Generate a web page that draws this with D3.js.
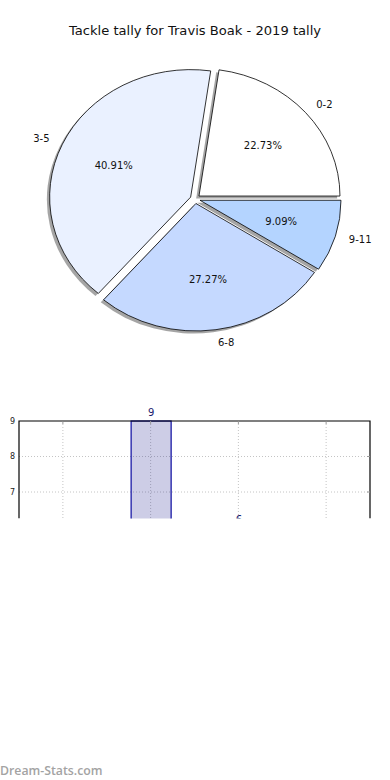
<!DOCTYPE html>
<html>
<head>
<meta charset="utf-8">
<script src="https://cdn.jsdelivr.net/npm/d3@7"></script>
<style>
  body { margin: 0; background: #fff; }
  svg { display: block; font-family: "DejaVu Sans", sans-serif; }
</style>
</head>
<body>
<svg id="chart" width="390" height="780"></svg>
<script>
// tally buckets and how many games fell in each
const categories = ['0-2', '3-5', '6-8', '9-11']
const counts = [5, 9, 6, 2]
const sliceColors = ['#ffffff', '#eaf1ff', '#c5d9ff', '#b4d4ff']
const yTicks = [7, 8, 9]

const svg = d3.select('#chart')

// title
svg.append('text')
    .attr('x', 195)
    .attr('y', 35)
    .attr('text-anchor', 'middle')
    .attr('font-size', '13.1px')
    .attr('fill', '#111')
    .text('Tackle tally for Travis Boak - 2019 tally')

// ---- pie ----
const cx = 195.2, cy = 199, rx = 141, ry = 127.5
const squash = ry / rx
const explode = 5
const shadowOff = 2.8

const pie = d3.pie().sort(null).startAngle(Math.PI / 2).endAngle(Math.PI / 2 - 2 * Math.PI)
const arcs = pie(counts)
const arc = d3.arc().innerRadius(0).outerRadius(rx)
const total = d3.sum(counts)

const pieG = svg.append('g')

arcs.forEach((d, i) => {
    const mid = (d.startAngle + d.endAngle) / 2
    const ox = cx + explode * Math.sin(mid)
    const oy = cy - explode * squash * Math.cos(mid)

    // 阴影, 向左下偏移
    pieG.append('path')
        .attr('d', arc(d))
        .attr('transform', `translate(${ox - shadowOff},${oy + shadowOff * squash}) scale(1,${squash})`)
        .attr('fill', '#4c4c4c')
        .attr('fill-opacity', 0.5)

    pieG.append('path')
        .attr('d', arc(d))
        .attr('transform', `translate(${ox},${oy}) scale(1,${squash})`)
        .attr('fill', sliceColors[i])
        .attr('stroke', '#000')
        .attr('stroke-width', 0.8)
        .attr('vector-effect', 'non-scaling-stroke')

    // 百分比
    pieG.append('text')
        .attr('x', ox + 0.6 * rx * Math.sin(mid))
        .attr('y', oy - 0.6 * ry * Math.cos(mid))
        .attr('dy', '0.35em')
        .attr('text-anchor', 'middle')
        .attr('font-size', '10px')
        .attr('fill', '#111')
        .text((100 * d.data / total).toFixed(2) + '%')

    // 类别标签
    const lx = ox + 1.1 * rx * Math.sin(mid)
    pieG.append('text')
        .attr('x', lx)
        .attr('y', oy - 1.1 * ry * Math.cos(mid))
        .attr('dy', '0.35em')
        .attr('text-anchor', Math.sin(mid) >= 0 ? 'start' : 'end')
        .attr('font-size', '10px')
        .attr('fill', '#111')
        .text(categories[i])
})

// ---- bar chart (cropped) ----
const plotLeft = 19, plotRight = 370, plotTop = 421, cut = 518.5
const x = d3.scaleBand().domain(categories).range([plotLeft, plotRight]).paddingInner(0.544).paddingOuter(0.272)
const y = d3.scaleLinear().domain([0, 9]).range([plotTop + 9 * 35.5, plotTop])

svg.append('clipPath').attr('id', 'cut')
    .append('rect').attr('x', 0).attr('y', 400).attr('width', 390).attr('height', cut - 400)

const barG = svg.append('g').attr('clip-path', 'url(#cut)')

// grid
barG.selectAll('.vgrid').data(categories).enter().append('line')
    .attr('x1', (d) => x(d) + x.bandwidth() / 2)
    .attr('x2', (d) => x(d) + x.bandwidth() / 2)
    .attr('y1', plotTop).attr('y2', cut)
    .attr('stroke', '#c4c4c4').attr('stroke-width', 1).attr('stroke-dasharray', '1,2')

barG.selectAll('.hgrid').data(yTicks.filter((t) => t < 9)).enter().append('line')
    .attr('x1', plotLeft).attr('x2', plotRight)
    .attr('y1', (d) => y(d)).attr('y2', (d) => y(d))
    .attr('stroke', '#c4c4c4').attr('stroke-width', 1).attr('stroke-dasharray', '1,2')

barG.selectAll('.bar').data(counts).enter().append('rect')
    .attr('x', (d, i) => x(categories[i]) + 0.5)
    .attr('y', (d) => y(d))
    .attr('width', x.bandwidth())
    .attr('height', (d) => y(0) - y(d))
    .attr('fill', '#1b1b8c')
    .attr('fill-opacity', 0.22)
    .attr('stroke', '#0c0ca0')
    .attr('stroke-width', 1.2)

barG.selectAll('.val').data(counts).enter().append('text')
    .attr('x', (d, i) => x(categories[i]) + x.bandwidth() / 2 + 0.5)
    .attr('y', (d) => y(d) - 5)
    .attr('text-anchor', 'middle')
    .attr('font-size', '10px')
    .attr('fill', '#1a1a6e')
    .text((d) => d)

// frame
barG.append('path')
    .attr('d', `M${plotLeft},${cut}V${plotTop}H${plotRight}V${cut}`)
    .attr('fill', 'none').attr('stroke', '#000').attr('stroke-width', 1.2)

// tick marks inside the frame
barG.selectAll('.tickR').data(yTicks.filter((t) => t < 9)).enter().append('line')
    .attr('x1', plotRight - 3).attr('x2', plotRight)
    .attr('y1', (d) => y(d)).attr('y2', (d) => y(d))
    .attr('stroke', '#999')
barG.selectAll('.tickT').data(categories).enter().append('line')
    .attr('x1', (d) => x(d) + x.bandwidth() / 2)
    .attr('x2', (d) => x(d) + x.bandwidth() / 2)
    .attr('y1', plotTop).attr('y2', plotTop + 3)
    .attr('stroke', '#999')

svg.selectAll('.ylab').data(yTicks).enter().append('text')
    .attr('x', 15)
    .attr('y', (d) => y(d))
    .attr('dy', '0.35em')
    .attr('text-anchor', 'end')
    .attr('font-size', '8px')
    .attr('fill', '#222')
    .text((d) => d)

// watermark
svg.append('text')
    .attr('x', 0)
    .attr('y', 775)
    .attr('font-family', '"Open Sans", sans-serif')
    .attr('font-weight', 600)
    .attr('font-size', '12.3px')
    .attr('fill', '#a3a3a3')
    .text('Dream-Stats.com')
</script>
</body>
</html>
